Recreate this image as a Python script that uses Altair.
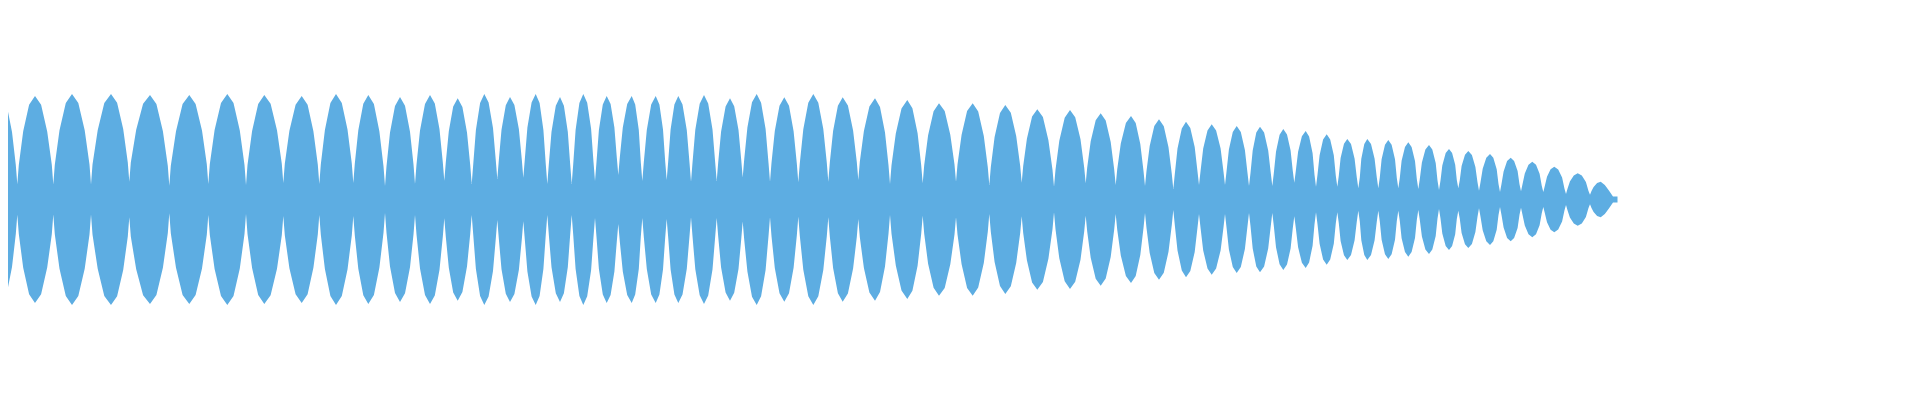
import altair as alt
import pandas as pd

# Waveform envelope.
# Each lobe: start (pinch) -> two rising shoulders -> peak -> two falling shoulders.
start_x = [0, 17.3, 53.3, 91, 129.3, 169.3, 208.3, 246, 283.3, 319.3, 353.3, 385, 415, 444.3, 471.7, 497.3, 523.3, 547.3, 571.7, 595, 618.3, 642.3, 666.7, 691, 716.7, 742.7, 770, 798.3, 828.3, 858.3, 890, 922.7, 956, 989.3, 1021.7, 1054, 1085.7, 1115.7, 1145, 1173.3, 1199, 1225, 1249, 1272.3, 1294.3, 1316, 1337.3, 1358.3, 1378.3, 1398.3, 1418.3, 1439, 1458.3, 1479, 1500, 1521, 1543.3, 1566, 1590]
start_amp = [83.5, 15.2, 15, 15, 17.8, 13.8, 15.5, 14.5, 16.5, 15.5, 16.5, 13.5, 15.5, 18.8, 15.5, 20.5, 21.8, 15.5, 15.5, 18.5, 24.5, 18.5, 19.5, 17.8, 18.5, 22, 17.8, 17.2, 17.8, 19.5, 15.5, 16.2, 17.8, 14.5, 16.8, 12.8, 16.2, 14.5, 13.5, 10.5, 14.5, 14.5, 13.5, 13.5, 16.8, 12.8, 12.8, 11.2, 11.2, 11.2, 10.5, 9.5, 11.2, 8.8, 7.5, 8.2, 7.5, 5.5, 4.8]

# amplitude 1.5 frames either side of each pinch (pinches 1..58)
edge_dx = 1.5
edge_amp = [34.5, 34.7, 34.9, 37.0, 33.8, 35.2, 34.4, 35.8, 35.1, 36.0, 33.3, 34.9, 37.3, 34.8, 38.9, 39.9, 35.0, 35.0, 37.4, 41.9, 37.2, 38.0, 36.8, 37.1, 39.9, 36.7, 36.3, 36.7, 37.6, 34.2, 34.2, 35.0, 32.3, 33.4, 29.8, 32.0, 30.0, 28.5, 25.6, 28.1, 27.7, 26.6, 26.3, 28.4, 24.7, 23.8, 22.0, 21.9, 21.6, 20.5, 19.0, 19.6, 17.2, 15.5, 15.2, 13.6, 10.8, 8.6]

rise1_x = [0.5, 23.2, 59.5, 97.7, 136.2, 176.0, 214.6, 252.1, 289.4, 324.9, 358.3, 390.0, 420.0, 448.8, 475.9, 501.5, 527.4, 551.5, 575.6, 598.9, 622.8, 646.8, 670.6, 695.3, 721.1, 747.4, 774.8, 803.3, 833.1, 863.9, 895.8, 928.1, 961.6, 994.6, 1026.9, 1059.3, 1090.7, 1120.8, 1149.7, 1177.5, 1203.2, 1228.9, 1252.7, 1276.0, 1298.1, 1319.6, 1340.6, 1361.3, 1381.6, 1401.6, 1421.9, 1442.3, 1461.6, 1482.7, 1503.6, 1524.8, 1547.0, 1569.9, 1593.6]
rise1_amp = [90, 68.2, 69.3, 69.3, 69.8, 68.2, 69.5, 68.5, 68.7, 69.5, 69.3, 66.9, 68.9, 68.2, 69.5, 69.7, 72.0, 67.7, 69.5, 69.5, 71.9, 69.5, 69.9, 69.8, 68.1, 72.1, 68.4, 70.2, 68.4, 68.5, 65.9, 64.2, 64.8, 62.5, 60.8, 58.8, 58.2, 55.9, 53.5, 50.9, 50.9, 49.9, 49.1, 47.7, 47.8, 44.2, 41.4, 40.8, 40.2, 38.8, 36.9, 34.1, 33.6, 30.8, 28.1, 26.0, 22.7, 17.9, 12.6]

rise2_x = [1.0, 29.1, 65.8, 104.3, 143.1, 182.6, 221.0, 258.2, 295.6, 330.4, 363.3, 395.0, 425.0, 453.2, 480.1, 505.8, 531.6, 555.8, 579.4, 602.8, 627.2, 651.2, 674.4, 699.7, 725.6, 752.0, 779.5, 808.3, 837.9, 869.4, 901.5, 933.6, 967.1, 1000.0, 1032.1, 1064.7, 1095.7, 1125.9, 1154.3, 1181.8, 1207.5, 1232.8, 1256.3, 1279.6, 1301.9, 1323.1, 1344.0, 1364.3, 1385.0, 1405.0, 1425.4, 1445.7, 1465.0, 1486.3, 1507.1, 1528.5, 1550.6, 1573.8, 1597.1]
rise2_amp = [97, 94.7, 96.5, 96.5, 95.8, 95.4, 96.5, 95.5, 94.8, 96.5, 95.7, 93.6, 95.6, 93.0, 96.5, 94.3, 97.1, 93.8, 96.5, 95.0, 95.6, 95.0, 95.1, 95.8, 92.9, 97.2, 93.8, 96.7, 93.8, 93.0, 91.1, 88.2, 88.4, 86.5, 82.9, 81.8, 79.2, 76.6, 73.5, 71.1, 69.1, 67.6, 66.9, 64.8, 63.3, 60.0, 55.7, 55.6, 54.7, 52.6, 50.1, 46.4, 44.8, 41.8, 38.4, 34.8, 30.3, 24.1, 16.5]

peak_x = [1.5, 35, 72, 111, 150, 189.3, 227.3, 264.3, 301.7, 336, 368.3, 400, 430, 457.7, 484.3, 510, 535.7, 560, 583.3, 606.7, 631.7, 655.7, 678.3, 704, 730, 756.7, 784.3, 813.3, 842.7, 875, 907.3, 939, 972.7, 1005.3, 1037.3, 1070, 1100.7, 1131, 1159, 1186, 1211.7, 1236.7, 1260, 1283.3, 1305.7, 1326.7, 1347.3, 1367.3, 1388.3, 1408.3, 1429, 1449, 1468.3, 1490, 1510.7, 1532.3, 1554.3, 1577.7, 1600.7]
peak_amp = [102.5, 103.5, 105.5, 105.5, 104.5, 104.5, 105.5, 104.5, 103.5, 105.5, 104.5, 102.5, 104.5, 101.2, 105.5, 102.5, 105.5, 102.5, 105.5, 103.5, 103.5, 103.5, 103.5, 104.5, 101.2, 105.5, 102.2, 105.5, 102.2, 101.2, 99.5, 96.2, 96.2, 94.5, 90.2, 89.5, 86.2, 83.5, 80.2, 77.8, 75.2, 73.5, 72.8, 70.5, 68.5, 65.2, 60.5, 60.5, 59.5, 57.2, 54.5, 50.5, 48.5, 45.5, 41.8, 37.8, 32.8, 26.2, 17.8]

fall1_x = [6.8, 41.1, 78.3, 117.1, 156.4, 195.6, 233.5, 270.6, 307.6, 341.8, 373.9, 405.0, 434.8, 462.4, 488.6, 514.4, 539.6, 563.9, 587.2, 610.6, 635.2, 659.4, 682.5, 708.2, 734.2, 761.1, 789.0, 818.3, 847.9, 880.0, 912.4, 944.7, 978.2, 1010.8, 1042.9, 1075.2, 1105.7, 1135.7, 1163.8, 1190.3, 1216.1, 1240.8, 1264.1, 1287.0, 1309.1, 1330.2, 1351.0, 1371.0, 1391.6, 1411.6, 1432.3, 1452.1, 1471.9, 1493.3, 1514.1, 1536.0, 1558.2, 1581.8, 1604.8]
fall1_amp = [93.8, 94.7, 96.5, 96.7, 95.4, 95.6, 96.4, 95.7, 94.7, 96.6, 95.4, 93.8, 95.9, 92.6, 97.0, 94.4, 96.5, 93.8, 96.8, 95.6, 95.0, 95.1, 94.9, 95.9, 93.3, 96.7, 93.7, 96.7, 93.9, 92.6, 91.2, 88.4, 88.0, 86.7, 82.5, 82.2, 79.0, 76.5, 73.2, 71.5, 69.1, 67.5, 66.9, 65.1, 62.9, 60.0, 55.6, 55.6, 54.7, 52.5, 50.0, 46.6, 44.5, 41.7, 38.4, 34.8, 30.1, 24.1, 14.5]

fall2_x = [12.0, 47.2, 84.7, 123.2, 162.9, 202.0, 239.8, 277.0, 313.4, 347.5, 379.4, 410.0, 439.5, 467.0, 493.0, 518.9, 543.4, 567.8, 591.1, 614.4, 638.8, 663.0, 686.8, 712.5, 738.5, 765.6, 793.6, 823.3, 853.1, 885.0, 917.6, 950.3, 983.8, 1016.2, 1048.4, 1080.5, 1110.7, 1140.3, 1168.5, 1194.7, 1220.6, 1244.9, 1268.2, 1290.6, 1312.6, 1333.8, 1354.6, 1374.6, 1395.0, 1415.0, 1435.7, 1455.2, 1475.4, 1496.7, 1517.6, 1539.6, 1562.1, 1585.9, 1608.9]
fall2_amp = [67.6, 68.1, 69.3, 70.4, 68.2, 68.9, 69.1, 69.3, 68.3, 69.9, 68.1, 67.7, 70.2, 66.9, 71.5, 70.2, 69.5, 67.7, 70.7, 71.9, 69.5, 69.9, 69.2, 70.1, 69.5, 70.4, 68.2, 70.4, 69.1, 66.9, 66.2, 64.8, 63.5, 63.4, 59.2, 60.2, 57.5, 55.5, 52.3, 52.5, 50.9, 49.5, 49.1, 49.0, 46.2, 44.2, 40.8, 40.8, 40.2, 38.5, 36.5, 34.8, 32.6, 30.3, 28.4, 25.7, 21.9, 17.6, 9.0]

tail_x = [1613, 1617.5]
tail_amp = [3, 3]

rows = []
for i in range(len(start_x)):
    rows.append((start_x[i], start_amp[i]))
    if i > 0:
        rows.append((start_x[i] - edge_dx, edge_amp[i - 1]))
        rows.append((start_x[i] + edge_dx, edge_amp[i - 1]))
    for xs, am in ((rise1_x, rise1_amp), (rise2_x, rise2_amp), (peak_x, peak_amp),
                   (fall1_x, fall1_amp), (fall2_x, fall2_amp)):
        rows.append((xs[i], am[i]))
for x, a in zip(tail_x, tail_amp):
    rows.append((x, a))

df = pd.DataFrame(rows, columns=["frame", "amp"]).sort_values("frame").reset_index(drop=True)
df["top"] = df["amp"]
df["bottom"] = -df["amp"]

chart = (
    alt.Chart(df)
    .mark_area(color="#5DADE2", interpolate="linear", clip=True, opacity=1)
    .encode(
        x=alt.X("frame:Q", scale=alt.Scale(domain=[8, 1912], nice=False, zero=False), axis=None),
        y=alt.Y("top:Q", scale=alt.Scale(domain=[-192.5, 191.5], nice=False, zero=False), axis=None),
        y2="bottom:Q",
    )
    .properties(width=1904, height=384, padding=0, background="white",
                autosize=alt.AutoSizeParams(type="none"))
    .configure_view(strokeWidth=0, strokeOpacity=0)
)

chart.save("out.html", embed_options={"renderer": "svg", "actions": False})
